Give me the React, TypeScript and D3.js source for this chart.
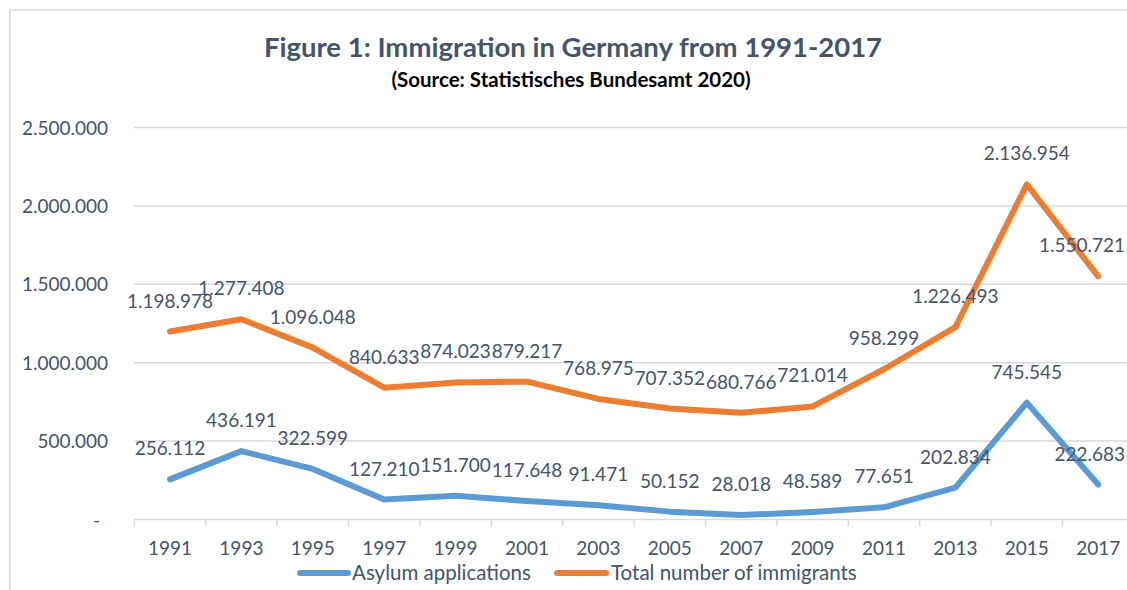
import React from "react";
import * as d3 from "d3";

const years = ["1991","1993","1995","1997","1999","2001","2003","2005","2007","2009","2011","2013","2015","2017"];
const asylum = [256112, 436191, 322599, 127210, 151700, 117648, 91471, 50152, 28018, 48589, 77651, 202834, 745545, 222683];
const total = [1198978, 1277408, 1096048, 840633, 874023, 879217, 768975, 707352, 680766, 721014, 958299, 1226493, 2136954, 1550721];
const yTicks = [0, 500000, 1000000, 1500000, 2000000, 2500000];
const seriesNames = ["Asylum applications", "Total number of immigrants"];

const W = 1127, H = 590;
const FONT = "Lato, 'Open Sans', sans-serif";
const TXT = "#44546A";
const BLUE = "#5B9BD5";
const ORANGE = "#ED7D31";
const GRID = "#D9D9D9";

const loc = d3.formatLocale({ decimal: ",", thousands: ".", grouping: [3], currency: ["", ""] });
const fmt = loc.format(",");

export default function App() {
  const x = d3.scaleBand<string>().domain(years).range([134.3, 134.3 + 14 * 71.4]).padding(0);
  const y = d3.scaleLinear().domain([0, 2500000]).range([519.5, 127.5]);
  const cx = (yr: string) => (x(yr) as number) + x.bandwidth() / 2;
  const line = d3.line<number>().x((_, i) => cx(years[i])).y((v) => y(v));
  const series = [
    { name: seriesNames[0], values: asylum, color: BLUE },
    { name: seriesNames[1], values: total, color: ORANGE },
  ];
  const [x0, x1] = x.range();
  const isLast = (i: number) => i === years.length - 1;
  return (
    <svg width={W} height={H} style={{ position: "absolute", left: 0, top: 0, background: "#fff" }} fontFamily={FONT}>
      <rect x={10} y={10} width={W + 20} height={H + 20} fill="#fff" stroke={GRID} strokeWidth={1.5} />
      <text x={573} y={57} textAnchor="middle" fontSize={27.5} fontWeight={700} fill={TXT}>
        Figure 1: Immigration in Germany from 1991-2017
      </text>
      <text x={571} y={87} textAnchor="middle" fontSize={20.5} fontWeight={700} fill="#000">
        (Source: Statistisches Bundesamt 2020)
      </text>
      {yTicks.map((t) => (
        <g key={t}>
          {t > 0 && <line x1={x0} x2={x1} y1={y(t)} y2={y(t)} stroke={GRID} strokeWidth={1.5} />}
          <text x={t === 0 ? 100 : 108} y={y(t) + 7} textAnchor="end" fontSize={19} fill={TXT}>
            {t === 0 ? "-" : fmt(t)}
          </text>
        </g>
      ))}
      <line x1={x0} x2={x1} y1={y(0)} y2={y(0)} stroke={GRID} strokeWidth={1.5} />
      {years.map((yr) => (
        <line key={"t" + yr} x1={x(yr)} x2={x(yr)} y1={y(0)} y2={y(0) + 7} stroke={GRID} strokeWidth={1.5} />
      ))}
      <line x1={x1} x2={x1} y1={y(0)} y2={y(0) + 7} stroke={GRID} strokeWidth={1.5} />
      {years.map((yr) => (
        <text key={"l" + yr} x={cx(yr)} y={555} textAnchor="middle" fontSize={19} fill={TXT}>
          {yr}
        </text>
      ))}
      {series.map((s) => (
        <path key={s.name} d={line(s.values) || ""} fill="none" stroke={s.color} strokeWidth={6}
          strokeLinejoin="round" strokeLinecap="round" />
      ))}
      {series.map((s) =>
        s.values.map((v, i) => (
          <text key={s.name + i} x={isLast(i) ? 1125 : cx(years[i])} y={y(v) - 24}
            textAnchor={isLast(i) ? "end" : "middle"} fontSize={19} fill={TXT}>
            {fmt(v)}
          </text>
        ))
      )}
      <g>
        <line x1={300} x2={348} y1={573} y2={573} stroke={BLUE} strokeWidth={6} strokeLinecap="round" />
        <text x={352} y={580} fontSize={20.5} fill={TXT}>{seriesNames[0]}</text>
        <line x1={557} x2={606} y1={573} y2={573} stroke={ORANGE} strokeWidth={6} strokeLinecap="round" />
        <text x={611} y={580} fontSize={20.5} fill={TXT}>{seriesNames[1]}</text>
      </g>
    </svg>
  );
}
